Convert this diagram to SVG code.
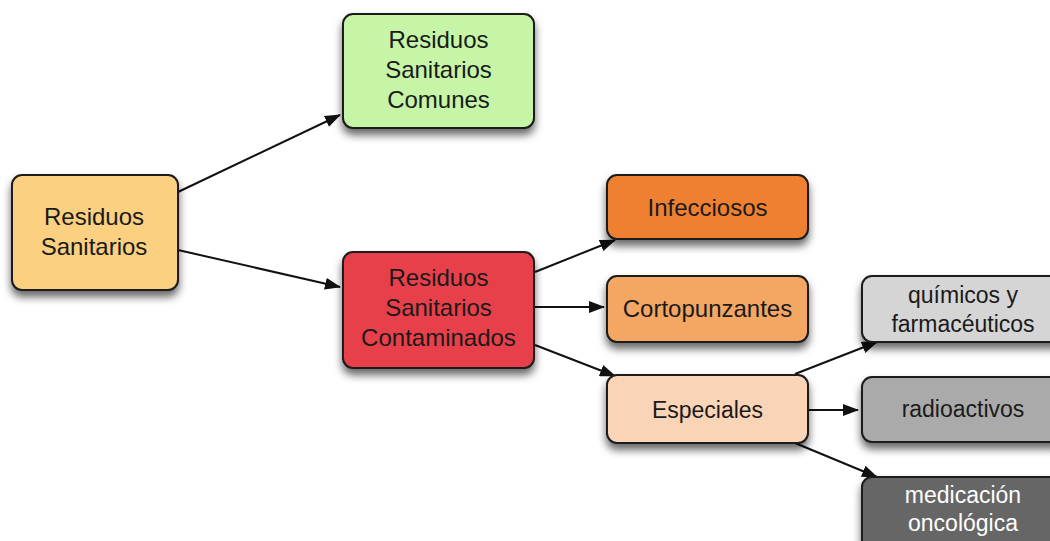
<svg xmlns="http://www.w3.org/2000/svg" width="1050" height="541" viewBox="0 0 1050 541">
<style>
.box{stroke:#1a1a1a;stroke-width:2;filter:url(#sh)}
.t{font-family:"Liberation Sans",Arial,Helvetica,sans-serif;font-size:24px;fill:#1a1a1a;text-anchor:middle}
.s{font-size:23px}
.w{fill:#ffffff}
.c{stroke:#111;stroke-width:2;fill:none;marker-end:url(#ah)}
</style>
<defs>
<filter id="sh" x="-20%" y="-20%" width="140%" height="150%">
<feDropShadow dx="0" dy="6" stdDeviation="4.5" flood-color="#000" flood-opacity="0.6"/>
</filter>
<marker id="ah" markerWidth="16" markerHeight="12" refX="15" refY="6" orient="auto" markerUnits="userSpaceOnUse">
<path d="M0,0 L16,6 L0,12 Z" fill="#111"/>
</marker>
</defs>
<rect width="1050" height="541" fill="#ffffff"/>
<g id="connectors">
<line class="c" x1="178" y1="192" x2="340" y2="115"/>
<line class="c" x1="178" y1="250" x2="340" y2="287"/>
<line class="c" x1="535" y1="272" x2="615" y2="240"/>
<line class="c" x1="535" y1="307" x2="604" y2="307"/>
<line class="c" x1="535" y1="345" x2="615" y2="376"/>
<line class="c" x1="795" y1="374" x2="877" y2="342"/>
<line class="c" x1="808" y1="410" x2="858" y2="410"/>
<line class="c" x1="795" y1="443" x2="877" y2="477"/>
</g>
<g id="n-residuos">
<rect class="box" x="12" y="175" width="166" height="115" rx="10" fill="#FBD080"/>
<text class="t" x="94" y="225">Residuos</text>
<text class="t" x="94" y="255">Sanitarios</text>
</g>
<g id="n-comunes">
<rect class="box" x="343" y="14" width="191" height="114" rx="10" fill="#C6F5A8"/>
<text class="t" x="438.5" y="48">Residuos</text>
<text class="t" x="438.5" y="78">Sanitarios</text>
<text class="t" x="438.5" y="108">Comunes</text>
</g>
<g id="n-contaminados">
<rect class="box" x="343" y="252" width="191" height="116" rx="10" fill="#E8414B"/>
<text class="t" x="438.5" y="286">Residuos</text>
<text class="t" x="438.5" y="316">Sanitarios</text>
<text class="t" x="438.5" y="346">Contaminados</text>
</g>
<g id="n-infecciosos">
<rect class="box" x="607" y="175" width="201" height="64" rx="10" fill="#EF8030"/>
<text class="t" x="707.5" y="216">Infecciosos</text>
</g>
<g id="n-cortopunzantes">
<rect class="box" x="607" y="276" width="201" height="66" rx="10" fill="#F4A663"/>
<text class="t" x="707.5" y="317">Cortopunzantes</text>
</g>
<g id="n-especiales">
<rect class="box" x="607" y="375" width="201" height="68" rx="10" fill="#FAD4B6"/>
<text class="t s" x="707.5" y="418">Especiales</text>
</g>
<g id="n-quimicos">
<rect class="box" x="862" y="276" width="202" height="66" rx="10" fill="#D5D5D5"/>
<text class="t s" x="963" y="303">químicos y</text>
<text class="t s" x="963" y="332">farmacéuticos</text>
</g>
<g id="n-radioactivos">
<rect class="box" x="862" y="377" width="202" height="65" rx="10" fill="#AAAAAA"/>
<text class="t s" x="963" y="417">radioactivos</text>
</g>
<g id="n-medicacion">
<rect class="box" x="862" y="477" width="202" height="80" rx="10" fill="#666666"/>
<text class="t s w" x="963" y="503">medicación</text>
<text class="t s w" x="963" y="531">oncológica</text>
</g>
</svg>
